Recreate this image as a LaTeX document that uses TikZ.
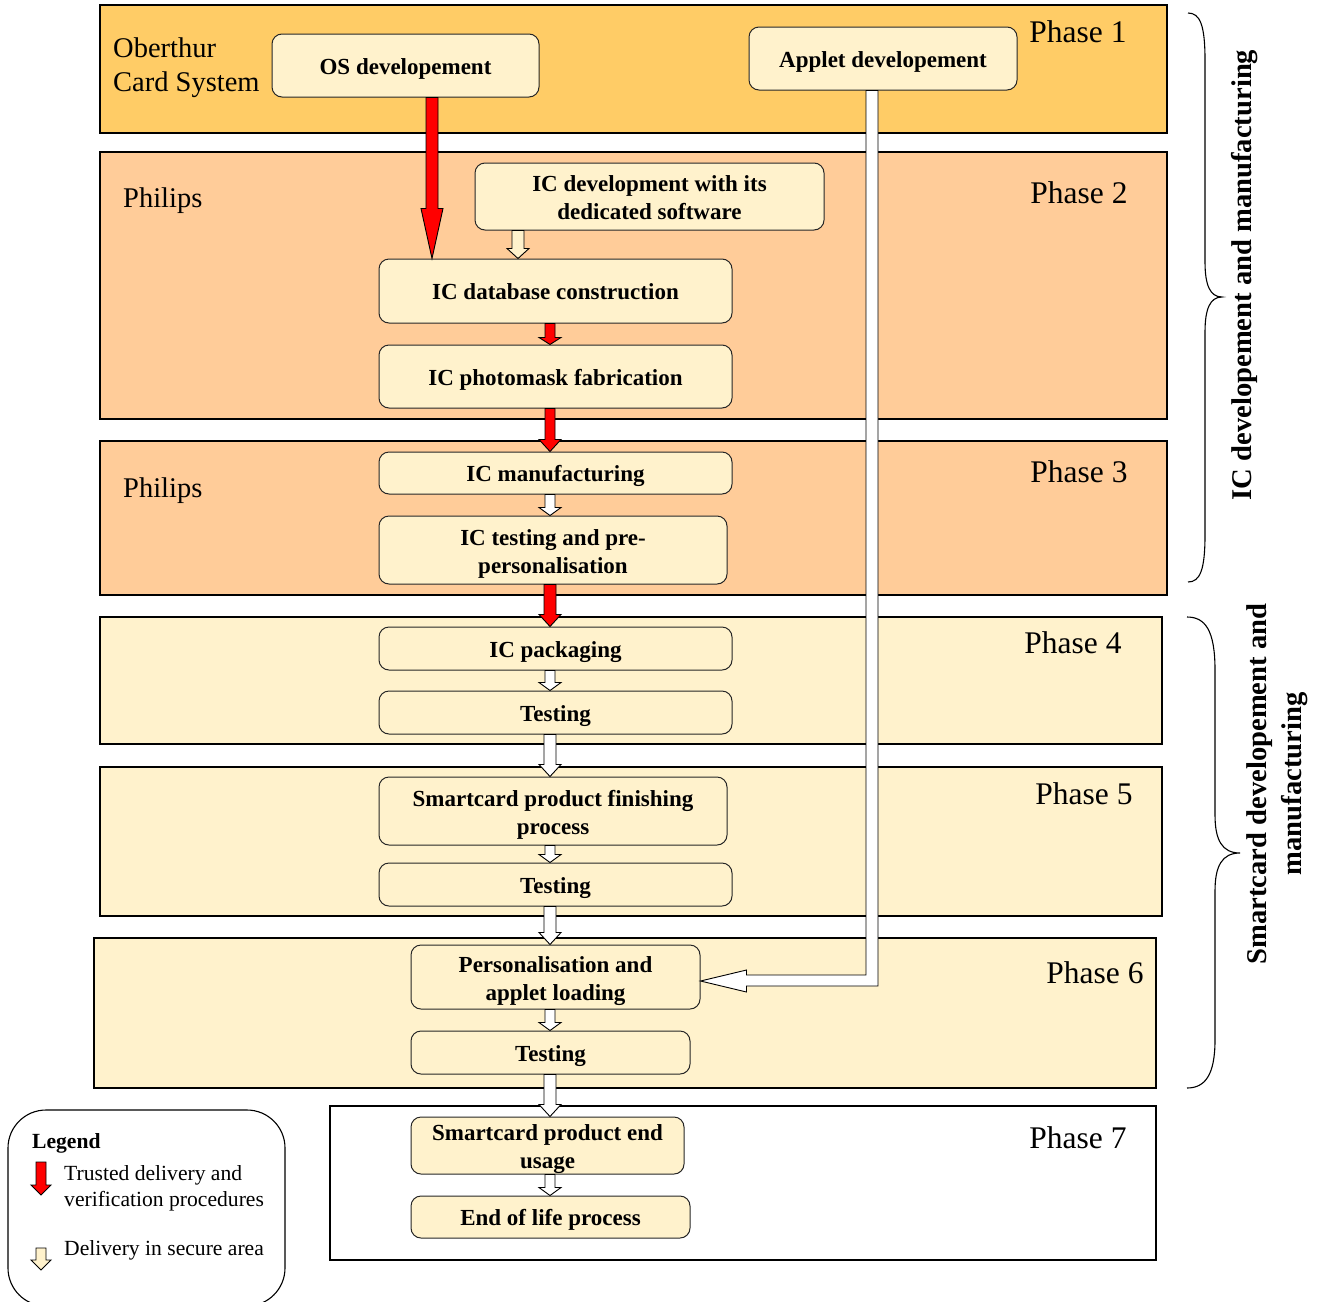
\documentclass[tikz,border=0pt]{standalone}
\usepackage{fontspec}
\setmainfont{Liberation Serif}
\usetikzlibrary{calc}
\definecolor{bandA}{RGB}{255,204,102}
\definecolor{bandB}{RGB}{255,204,153}
\definecolor{bandC}{RGB}{255,242,204}
\definecolor{boxfill}{RGB}{255,242,204}
\definecolor{trustred}{RGB}{255,0,0}
% #1 fill, #2 start, #3 tip, #4 head length, #5 shaft half width, #6 head half width
\newcommand\vblockarrow[6]{%
  \filldraw[fill=#1, draw=black, line width=0.9pt, line join=miter]
    let \p1=(#2), \p2=(#3) in
    (\x2-#5pt,\y1) -- (\x2-#5pt,\y2+#4pt) -- (\x2-#6pt,\y2+#4pt) -- (\x2,\y2)
    -- (\x2+#6pt,\y2+#4pt) -- (\x2+#5pt,\y2+#4pt) -- (\x2+#5pt,\y1) -- cycle;}
\begin{document}
\begin{tikzpicture}[x=1pt,y=-1pt,
  band/.style={draw=black, line width=1.2pt},
  boxtext/.style={align=center, inner sep=0pt, font=\fontsize{23}{28}\selectfont\bfseries},
  procbox/.style={draw=black!85, line width=1pt, rounded corners=10pt, fill=boxfill, boxtext},
  oneline/.style={text height=21.5pt, text depth=4pt},
  twoline/.style={label={[boxtext, yshift=-4pt]center:{#1}}},
  phaselabel/.style={font=\fontsize{31.5}{36}\selectfont, inner sep=0pt},
  orglabel/.style={font=\fontsize{28.5}{34}\selectfont, inner sep=0pt, align=left, anchor=west},
  bracelabel/.style={font=\fontsize{28.6}{35}\selectfont\bfseries, inner sep=0pt, align=center, rotate=90},
  legendtext/.style={font=\fontsize{21.6}{26}\selectfont, inner sep=0pt, align=left, anchor=west}]
\useasboundingbox (0,0) rectangle (1324,1301);

% phase bands
\draw[band, fill=bandA] (100,5) rectangle (1167,133);
\draw[band, fill=bandB] (100,152) rectangle (1167,419);
\draw[band, fill=bandB] (100,441) rectangle (1167,595);
\draw[band, fill=bandC] (100,617) rectangle (1162,744);
\draw[band, fill=bandC] (100,767) rectangle (1162,916);
\draw[band, fill=bandC] (94,938) rectangle (1156,1088);
\draw[band, fill=white] (330,1106) rectangle (1156,1260);

% phase labels
\node[phaselabel] (ph1) at (1078,32) {Phase 1};
\node[phaselabel] (ph2) at (1079,193) {Phase 2};
\node[phaselabel] (ph3) at (1079,472) {Phase 3};
\node[phaselabel] (ph4) at (1073,643) {Phase 4};
\node[phaselabel] (ph5) at (1084,794) {Phase 5};
\node[phaselabel] (ph6) at (1095,973) {Phase 6};
\node[phaselabel] (ph7) at (1078,1138) {Phase 7};

% organisations
\node[orglabel] (ocs) at (113,68) {Oberthur\\Card System};
\node[orglabel] (phi1) at (123,201) {Philips};
\node[orglabel] (phi2) at (123,491) {Philips};

% process boxes
\node[procbox, oneline, minimum width=267, minimum height=63] (os) at (405.5,65.5) {OS developement};
\node[procbox, oneline, minimum width=268, minimum height=63] (applet) at (883,58.5) {Applet developement};
\node[procbox, minimum width=349, minimum height=67,
  label={[boxtext, yshift=-1pt]center:{IC development with its\\dedicated software}}] (icdev) at (649.5,196.5) {};
\node[procbox, oneline, minimum width=353, minimum height=64] (db) at (555.5,291) {IC database construction};
\node[procbox, oneline, minimum width=353, minimum height=63] (pm) at (555.5,376.5) {IC photomask fabrication};
\node[procbox, oneline, minimum width=353, minimum height=42] (man) at (555.5,473) {IC manufacturing};
\node[procbox, minimum width=348, minimum height=68,
  twoline={IC testing and pre-\\personalisation}] (tst3) at (553,550) {};
\node[procbox, oneline, minimum width=353, minimum height=43] (pack) at (555.5,648.5) {IC packaging};
\node[procbox, oneline, minimum width=353, minimum height=43] (tst4) at (555.5,712.5) {Testing};
\node[procbox, minimum width=348, minimum height=68,
  twoline={Smartcard product finishing\\process}] (fin) at (553,811) {};
\node[procbox, oneline, minimum width=353, minimum height=43] (tst5) at (555.5,884.5) {Testing};
\node[procbox, minimum width=289, minimum height=64,
  twoline={Personalisation and\\applet loading}] (pers) at (555.5,977) {};
\node[procbox, oneline, minimum width=279, minimum height=43] (tst6) at (550.5,1052.5) {Testing};
\node[procbox, minimum width=273, minimum height=57,
  twoline={Smartcard product end\\usage}] (use) at (547.5,1145.5) {};
\node[procbox, oneline, minimum width=279, minimum height=42] (eol) at (550.5,1217) {End of life process};

% reference x positions for arrows
\coordinate (osx) at (432,0);
\coordinate (icx) at (518,0);
\coordinate (ax) at (550,0);
\coordinate (apx) at (872,0);

% arrows
\vblockarrow{trustred}{os.south -| osx}{db.north -| osx}{50}{6}{11}
\vblockarrow{boxfill}{icdev.south -| icx}{db.north -| icx}{10}{6}{11}
\vblockarrow{trustred}{db.south -| ax}{pm.north -| ax}{7}{5}{11}
\vblockarrow{trustred}{pm.south -| ax}{man.north -| ax}{12}{5}{11}
\vblockarrow{white}{man.south -| ax}{tst3.north -| ax}{8}{5}{11}
\vblockarrow{trustred}{tst3.south -| ax}{pack.north -| ax}{12}{6}{11}
\vblockarrow{white}{pack.south -| ax}{tst4.north -| ax}{8}{5}{11}
\vblockarrow{white}{tst4.south -| ax}{fin.north -| ax}{12}{6}{11}
\vblockarrow{white}{fin.south -| ax}{tst5.north -| ax}{8}{5}{11}
\vblockarrow{white}{tst5.south -| ax}{pers.north -| ax}{12}{6}{11}
\vblockarrow{white}{pers.south -| ax}{tst6.north -| ax}{8}{5}{11}
\vblockarrow{white}{tst6.south -| ax}{use.north -| ax}{12}{6}{11}
\vblockarrow{white}{use.south -| ax}{eol.north -| ax}{8}{5}{11}

% applet delivery
\filldraw[fill=white, draw=black, line width=0.9pt, line join=miter]
  let \p1=(applet.south -| apx), \p2=($(pers.east)+(0,4)$) in
  (\x1-6pt,\y1) -- (\x1-6pt,\y2+6pt) -- (\x2+46pt,\y2+6pt) -- (\x2+46pt,\y2+11pt)
  -- (\x2,\y2) -- (\x2+46pt,\y2-11pt) -- (\x2+46pt,\y2-5pt) -- (\x1+6pt,\y2-5pt)
  -- (\x1+6pt,\y1) -- cycle;

% braces
\draw[line width=1.1pt] (1188,13) .. controls (1200,13) and (1205,25) .. (1205,60)
  -- (1205,262) .. controls (1205,285) and (1210,297) .. (1222,297)
  .. controls (1210,297) and (1205,309) .. (1205,332)
  -- (1205,535) .. controls (1205,570) and (1200,582) .. (1188,582);
\draw[line width=1.1pt] (1187,617) .. controls (1205,617) and (1215,630) .. (1215,670)
  -- (1215,815) .. controls (1215,840) and (1222,853) .. (1240,853)
  .. controls (1222,853) and (1215,866) .. (1215,891)
  -- (1215,1040) .. controls (1215,1075) and (1205,1088) .. (1187,1088);
\node[bracelabel] (br1) at (1245,275) {IC developement and manufacturing};
\node[bracelabel] (br2) at (1277,784) {Smartcard developement and\\manufacturing};

% legend
\draw[line width=1.1pt, rounded corners=38pt] (8,1110) rectangle (285,1306);
\node[legendtext, font=\fontsize{21.6}{26}\selectfont\bfseries] (lgt) at (32,1143) {Legend};
\coordinate (lr1) at (41,1162);
\coordinate (lr2) at (41,1195);
\coordinate (lw1) at (41,1248);
\coordinate (lw2) at (41,1270);
\vblockarrow{trustred}{lr1}{lr2}{10}{5}{10}
\vblockarrow{boxfill}{lw1}{lw2}{10}{5}{10}
\node[legendtext] (lgt1) at (64,1188) {Trusted delivery and\\verification procedures};
\node[legendtext] (lgt2) at (64,1250) {Delivery in secure area};
\end{tikzpicture}
\end{document}
